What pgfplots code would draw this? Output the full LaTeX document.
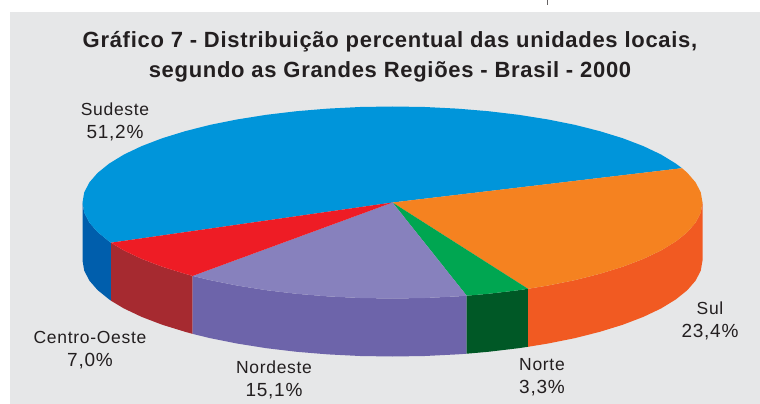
\documentclass[border=0pt]{standalone}
\usepackage{fontspec}
\setmainfont{Liberation Sans}
\newfontfamily\ttl[LetterSpace=3.2,BoldFont={Liberation Sans Bold}]{Liberation Sans}
\newfontfamily\lbl[LetterSpace=4]{Liberation Sans}
\usepackage{pgfplots}
\pgfplotsset{compat=1.18}
\definecolor{fundo}{HTML}{E6E7E8}
\definecolor{texto}{HTML}{231F20}
\definecolor{azul}{HTML}{0095DA}
\definecolor{azulesc}{HTML}{005EAC}
\definecolor{laranja}{HTML}{F58220}
\definecolor{laranjaesc}{HTML}{F15A22}
\definecolor{verde}{HTML}{00A651}
\definecolor{verdeesc}{HTML}{005826}
\definecolor{roxo}{HTML}{8781BD}
\definecolor{roxoesc}{HTML}{6D64AA}
\definecolor{vermelho}{HTML}{EE1C25}
\definecolor{vermelhoesc}{HTML}{A62A30}
\tikzset{lab/.style={anchor=base, font=\fontsize{17.5}{20}\lbl, text=texto},
    pct/.style={anchor=base, font=\fontsize{19}{22}\lbl, text=texto}}
\begin{document}
\begin{tikzpicture}
\begin{axis}[
    scale only axis, width=760pt, height=403pt,
    xmin=0, xmax=760, ymin=0, ymax=403,
    y dir=reverse, hide axis, clip=false,
    every axis plot/.append style={draw=none, mark=none},
]
% folha inteira, para a caixa da figura pegar os 760x403
\addplot[fill=white] coordinates {(0,0) (760,0) (760,403) (0,403)};
% fundo e marca de corte
\addplot[fill=fundo] coordinates {(10,12) (760,12) (760,403) (10,403)};
\addplot[draw=texto!70, line width=1pt] coordinates {(547,0) (547,5)};

% laterais
\addplot[fill=azulesc] coordinates {(82.5,202) (84.2,212) (89.3,222) (97.7,231.7) (109.3,241) (111,242.2)
    (111,300.2) (109.3,299) (97.7,289.7) (89.3,280) (84.2,270) (82.5,260)};
\addplot[fill=vermelhoesc] coordinates {(111,242.2) (124,250) (141.7,258.4) (162.1,266.2) (185.1,273.3) (192.7,275.4)
    (192.7,333.4) (185.1,331.3) (162.1,324.2) (141.7,316.4) (124,308) (111,300.2)};
\addplot[fill=roxoesc] coordinates {(192.7,275.4) (210.3,279.7) (237.5,285.1) (266.4,289.7) (296.7,293.3) (328.1,295.9) (360.1,297.5) (392.5,298) (424.9,297.5) (456.9,295.9) (466.7,295.2)
    (466.7,353.2) (456.9,353.9) (424.9,355.5) (392.5,356) (360.1,355.5) (328.1,353.9) (296.7,351.3) (266.4,347.7) (237.5,343.1) (210.3,337.7) (192.7,333.4)};
\addplot[fill=verdeesc] coordinates {(466.7,295.2) (488.3,293.3) (518.6,289.7) (528,288.3)
    (528,346.3) (518.6,347.7) (488.3,351.3) (466.7,353.2)};
\addplot[fill=laranjaesc] coordinates {(528,288.3) (547.5,285.1) (574.7,279.7) (599.9,273.3) (622.9,266.2) (643.3,258.4) (661,250) (675.7,241) (687.3,231.7) (695.7,222) (700.8,212) (702.5,202)
    (702.5,260) (700.8,270) (695.7,280) (687.3,289.7) (675.7,299) (661,308) (643.3,316.4) (622.9,324.2) (599.9,331.3) (574.7,337.7) (547.5,343.1) (528,346.3)};

% topo
\addplot[fill=azul] coordinates {(392.5,202) (111,242.2) (109.3,241) (97.7,231.7) (89.3,222) (84.2,212) (82.5,202)
    (84.2,192) (89.3,182) (97.7,172.3) (109.3,163) (124,154) (141.7,145.6) (162.1,137.8) (185.1,130.7) (210.3,124.3) (237.5,118.9) (266.4,114.3) (296.7,110.7) (328.1,108.1) (360.1,106.5) (392.5,106)
    (424.9,106.5) (456.9,108.1) (488.3,110.7) (518.6,114.3) (547.5,118.9) (574.7,124.3) (599.9,130.7) (622.9,137.8) (643.3,145.6) (661,154) (675.7,163) (682,167.7)};
\addplot[fill=laranja] coordinates {(392.5,202) (682,167.7) (687.3,172.3) (695.7,182) (700.8,192) (702.5,202) (700.8,212) (695.7,222) (687.3,231.7) (675.7,241) (661,250) (643.3,258.4) (622.9,266.2) (599.9,273.3) (574.7,279.7) (547.5,285.1) (528,288.3)};
\addplot[fill=verde] coordinates {(392.5,202) (528,288.3) (518.6,289.7) (488.3,293.3) (466.7,295.2)};
\addplot[fill=roxo] coordinates {(392.5,202) (466.7,295.2) (456.9,295.9) (424.9,297.5) (392.5,298) (360.1,297.5) (328.1,295.9) (296.7,293.3) (266.4,289.7) (237.5,285.1) (210.3,279.7) (192.7,275.4)};
\addplot[fill=vermelho] coordinates {(392.5,202) (192.7,275.4) (185.1,273.3) (162.1,266.2) (141.7,258.4) (124,250) (111,242.2)};

% titulo
\node[anchor=base, font=\fontsize{22}{26}\ttl\bfseries, text=texto] at (axis cs:390,47) {Gráfico 7 - Distribuição percentual das unidades locais,};
\node[anchor=base, font=\fontsize{22}{26}\ttl\bfseries, text=texto] at (axis cs:390,77) {segundo as Grandes Regiões - Brasil - 2000};

% rotulos
\node[lab] at (axis cs:115,115) {Sudeste};
\node[pct] at (axis cs:115,138) {51,2\%};
\node[lab] at (axis cs:90,343) {Centro-Oeste};
\node[pct] at (axis cs:90,366) {7,0\%};
\node[lab] at (axis cs:274,373) {Nordeste};
\node[pct] at (axis cs:274,396) {15,1\%};
\node[lab] at (axis cs:542,370) {Norte};
\node[pct] at (axis cs:542,393) {3,3\%};
\node[lab] at (axis cs:710,314) {Sul};
\node[pct] at (axis cs:710,337) {23,4\%};
\end{axis}
\end{tikzpicture}
\end{document}
